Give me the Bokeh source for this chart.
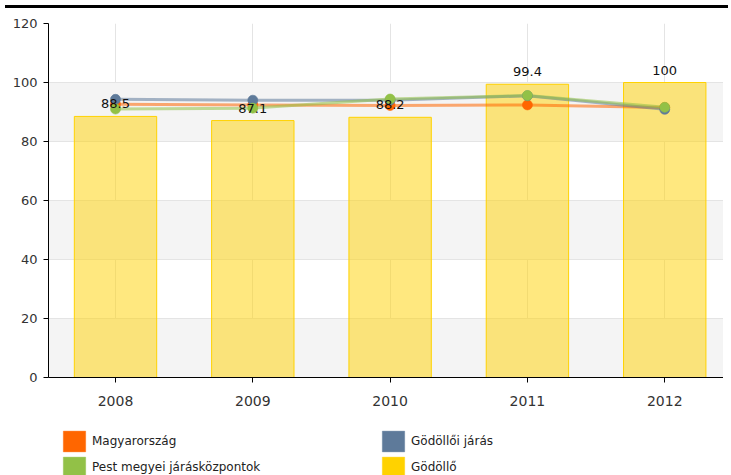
from bokeh.plotting import figure
from bokeh.models import (ColumnDataSource, Legend, LegendItem, FixedTicker,
                          Div, LabelSet)
from bokeh.core.properties import value
from bokeh.layouts import column
from bokeh.embed import file_html
from bokeh.resources import INLINE

years = ["2008", "2009", "2010", "2011", "2012"]
godollo = [88.5, 87.1, 88.2, 99.4, 100]
magyarorszag = [92.6, 92.4, 92.2, 92.4, 91.5]
godolloi_jaras = [94.3, 94.0, 94.0, 95.5, 90.9]
pest_megyei = [91.0, 91.3, 94.4, 95.6, 91.6]
y_ticks = [0, 20, 40, 60, 80, 100, 120]
# legend entries in column-major order for a 2-column legend
legend_names = ["Magyarország", "Pest megyei járásközpontok", "Gödöllői járás", "Gödöllő"]
legend_colors = ["#FF6600", "#92C147", "#5E7A9A", "#FFD200"]
series_colors = {"mag": "#FF6600", "jar": "#5E7A9A", "pest": "#92C147"}

xs = list(range(len(years)))
labels = [("%g" % v) for v in godollo]

src = ColumnDataSource(dict(x=xs, godollo=godollo, lab=labels,
                            mag=magyarorszag, jar=godolloi_jaras, pest=pest_megyei))

p = figure(width=723, height=404, output_backend="svg", toolbar_location=None,
           x_range=(-0.488, 4.428), y_range=(0, 120),
           min_border_left=48, min_border_right=0, min_border_top=10,
           min_border_bottom=40)
p.background_fill_color = "white"
p.border_fill_color = "white"
p.outline_line_color = None

# grid (duplicated first tick so the shaded bands start at 0)
p.ygrid.ticker = FixedTicker(ticks=[y_ticks[0]] + y_ticks)
p.ygrid.grid_line_color = "#e4e4e4"
p.ygrid.band_fill_color = "#f4f4f4"
p.ygrid.band_fill_alpha = 1.0
p.xgrid.grid_line_color = "#e4e4e4"

# axes
p.yaxis.ticker = FixedTicker(ticks=y_ticks)
p.xaxis.ticker = FixedTicker(ticks=xs)
p.xaxis.major_label_overrides = {i: y for i, y in enumerate(years)}
for ax in (p.xaxis[0], p.yaxis[0]):
    ax.axis_line_color = "black"
    ax.major_tick_line_color = "black"
    ax.major_tick_in = 0
    ax.major_tick_out = 5
    ax.minor_tick_line_color = None
    ax.major_label_text_font = "DejaVu Sans"
    ax.major_label_text_color = "#333333"
    ax.major_label_text_font_style = "normal"
p.yaxis.major_label_text_font_size = "13px"
p.xaxis.major_label_text_font_size = "14px"
p.xaxis.major_label_standoff = 13
p.yaxis.major_label_standoff = 6

# bars
p.vbar(x="x", top="godollo", width=0.6, source=src,
       fill_color="#FFD200", fill_alpha=0.5, line_color="#FFD200", line_width=1)

for key in ["mag", "jar", "pest"]:
    p.line(x="x", y=key, source=src, line_color=series_colors[key], line_width=3,
           line_alpha=0.55)
for key in ["mag", "jar", "pest"]:
    col = series_colors[key]
    p.scatter(x="x", y=key, source=src, size=10, fill_color=col, line_color=col,
              line_alpha=0.6)

p.add_layout(LabelSet(x="x", y="godollo", text="lab", source=src, y_offset=8,
                      text_align="center", text_baseline="bottom",
                      text_font=value("DejaVu Sans"), text_font_size=value("13px"),
                      text_color="#111111"))

# legend in a separate strip below
lf = figure(width=723, height=60, output_backend="svg", toolbar_location=None,
            min_border=0, x_range=(1, 2), y_range=(1, 2),
            x_axis_location=None, y_axis_location=None)
lf.grid.visible = False
lf.outline_line_color = None
lf.background_fill_color = "white"
lf.border_fill_color = "white"
items = []
for name, col in zip(legend_names, legend_colors):
    # legend swatch proxy, kept outside the visible range
    r = lf.rect(x=[0], y=[0], width=0, height=0, fill_color=col, line_color=col,
                line_alpha=0.35)
    items.append(LegendItem(label=name, renderers=[r]))
legend = Legend(items=items, ncols=2, location=(12, -3),
                glyph_width=28, glyph_height=26, label_width=287,
                label_standoff=4, spacing=0, padding=0, margin=0,
                label_text_font="DejaVu Sans", label_text_font_size="12px",
                label_text_color="#222222", border_line_color=None,
                background_fill_alpha=0)
lf.add_layout(legend, "center")

bar = Div(text="", width=723, height=3, styles={"background-color": "black"})
layout = column(bar, p, lf, spacing=0)

open("out.html", "w").write(file_html(layout, INLINE))
